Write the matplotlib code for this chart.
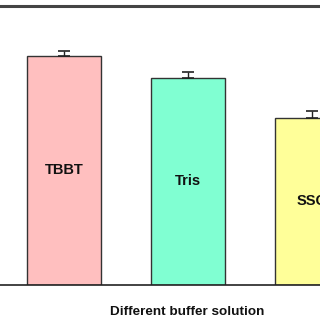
import matplotlib
matplotlib.use("Agg")
import matplotlib.pyplot as plt

# data (arbitrary units, cropped chart)
buffers = ["TBBT", "Tris", "SSC"]
values = [82.1, 74.2, 59.9]
errors = [1.8, 2.1, 2.5]
bar_colors = ["#ffbfbf", "#80ffd2", "#ffff99"]

plt.rcParams['font.family'] = ['Liberation Sans', 'DejaVu Sans']

fig = plt.figure(figsize=(3.2, 3.2), dpi=100)
# the original figure is cut off on the left and right, so the axes run past the edges
ax = fig.add_axes([0, 35 / 320, 1, 279 / 320])

x = list(range(len(buffers)))
ax.bar(x, values, width=0.6, color=bar_colors, edgecolor="#333333", linewidth=1.0, zorder=2)
ax.errorbar(x, values, yerr=[[0] * len(errors), errors], fmt="none", ecolor="#222222",
            elinewidth=1.0, capsize=4, capthick=1.2, zorder=3)

for xi, v, name in zip(x, values, buffers):
    ax.text(xi, v / 2, name, ha="center", va="center", fontsize=10.5, fontweight="bold", color="#111111")

ax.set_xlim(-64 / 124, 256 / 124)
ax.set_ylim(0, 100)
ax.spines["left"].set_visible(False)
ax.spines["right"].set_visible(False)
ax.spines["top"].set_linewidth(2.2)
ax.spines["top"].set_color("#444444")
ax.spines["bottom"].set_linewidth(1.2)
ax.spines["bottom"].set_color("#222222")
ax.set_xticks([])
ax.set_yticks([])

fig.text(187 / 320, 1 - 312 / 320, "Different buffer solution", ha="center", va="center",
         fontsize=9.7, fontweight="bold", color="#111111")

fig.savefig("out.png", dpi=100)
